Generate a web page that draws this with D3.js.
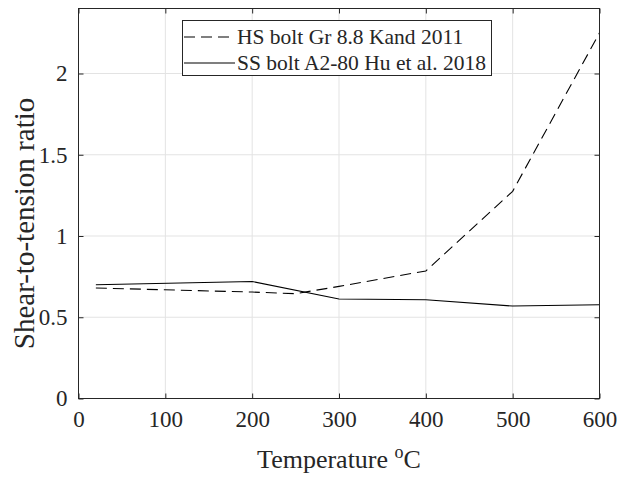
<!DOCTYPE html>
<html>
<head>
<meta charset="utf-8">
<script src="https://cdn.jsdelivr.net/npm/d3@7"></script>
<style>
  html, body { margin: 0; padding: 0; background: #fff; }
  svg { display: block; }
  text { font-family: "Liberation Serif", "Times New Roman", serif; fill: #262626; }
</style>
</head>
<body>
<svg id="chart" width="618" height="477"></svg>
<script>
// Temperatures (°C) and shear-to-tension ratios for each bolt type
const hsTemps  = [20, 200, 250, 300, 400, 500, 600];
const hsRatios = [0.68, 0.655, 0.645, 0.69, 0.785, 1.275, 2.25];
const ssTemps  = [20, 200, 300, 400, 500, 600];
const ssRatios = [0.70, 0.72, 0.612, 0.608, 0.569, 0.577];

const seriesNames = ["HS bolt Gr 8.8 Kand 2011", "SS bolt A2-80 Hu et al. 2018"];
const xTicks = [0, 100, 200, 300, 400, 500, 600];
const yTicks = [0, 0.5, 1, 1.5, 2];
const yTickLabels = ["0", "0.5", "1", "1.5", "2"];

const margin = { left: 78.5, right: 18.5, top: 8.5, bottom: 78.5 };
const W = 618, H = 477;
const svg = d3.select("#chart");

const x = d3.scaleLinear().domain([0, 600]).range([margin.left, W - margin.right]);
const y = d3.scaleLinear().domain([0, 2.4]).range([H - margin.bottom, margin.top]);

const axisColor = "#262626";
const gridColor = "#e3e3e3";

// grid
const grid = svg.append("g");
grid.selectAll("line.gx").data(xTicks.slice(1, -1)).join("line")
  .attr("x1", d => x(d)).attr("x2", d => x(d))
  .attr("y1", y(0)).attr("y2", y(2.4))
  .attr("stroke", gridColor).attr("stroke-width", 1);
grid.selectAll("line.gy").data(yTicks.slice(1)).join("line")
  .attr("x1", x(0)).attr("x2", x(600))
  .attr("y1", d => y(d)).attr("y2", d => y(d))
  .attr("stroke", gridColor).attr("stroke-width", 1);

// data lines
const line = d3.line().x(d => x(d[0])).y(d => y(d[1]));
svg.append("path")
  .datum(hsTemps.map((t, i) => [t, hsRatios[i]]))
  .attr("d", line).attr("fill", "none")
  .attr("stroke", "#000").attr("stroke-width", 1.1)
  .attr("stroke-dasharray", "11,6");
svg.append("path")
  .datum(ssTemps.map((t, i) => [t, ssRatios[i]]))
  .attr("d", line).attr("fill", "none")
  .attr("stroke", "#000").attr("stroke-width", 1.1);

// axes (ticks inward, box on all four sides)
const tickLen = 5;
const fmtY = d => yTickLabels[yTicks.indexOf(d)];
function styleAxis(g) {
  g.select(".domain").remove();
  g.selectAll(".tick line").attr("stroke", axisColor);
  g.selectAll(".tick text").attr("fill", axisColor)
    .style("font-family", '"Liberation Serif", serif').style("font-size", "23px");
}
svg.append("g").attr("transform", `translate(0,${y(0)})`)
  .call(d3.axisBottom(x).tickValues(xTicks).tickSize(-tickLen).tickPadding(12))
  .call(styleAxis);
svg.append("g").attr("transform", `translate(0,${y(2.4)})`)
  .call(d3.axisTop(x).tickValues(xTicks).tickSize(-tickLen).tickFormat(""))
  .call(styleAxis);
svg.append("g").attr("transform", `translate(${x(0)},0)`)
  .call(d3.axisLeft(y).tickValues(yTicks).tickSize(-tickLen).tickPadding(11).tickFormat(fmtY))
  .call(styleAxis);
svg.append("g").attr("transform", `translate(${x(600)},0)`)
  .call(d3.axisRight(y).tickValues(yTicks).tickSize(-tickLen).tickFormat(""))
  .call(styleAxis);

svg.append("rect")
  .attr("x", x(0)).attr("y", y(2.4))
  .attr("width", x(600) - x(0)).attr("height", y(0) - y(2.4))
  .attr("fill", "none").attr("stroke", axisColor).attr("stroke-width", 1);

// axis labels
const xl = svg.append("text")
  .attr("x", (x(0) + x(600)) / 2).attr("y", 468)
  .attr("text-anchor", "middle").style("font-size", "26px");
xl.append("tspan").text("Temperature ");
xl.append("tspan").attr("dy", -10).style("font-size", "18px").text("o");
xl.append("tspan").attr("dy", 10).text("C");

svg.append("text")
  .attr("transform", `translate(34,${(y(0) + y(2.4)) / 2 + 20}) rotate(-90)`)
  .attr("text-anchor", "middle").style("font-size", "29px")
  .text("Shear-to-tension ratio");

// legend
const lg = svg.append("g");
lg.append("rect").attr("x", 182.5).attr("y", 20.5).attr("width", 309).attr("height", 55)
  .attr("fill", "#fff").attr("stroke", axisColor).attr("stroke-width", 1);
const dashes = ["11,6", null];
seriesNames.forEach((name, i) => {
  const cy = 37 + i * 26;
  lg.append("line").attr("x1", 184).attr("x2", 235).attr("y1", cy).attr("y2", cy)
    .attr("stroke", "#000").attr("stroke-width", 1.1)
    .attr("stroke-dasharray", dashes[i]);
  lg.append("text").attr("x", 237).attr("y", cy + 7).style("font-size", "21.5px").text(name);
});
</script>
</body>
</html>
